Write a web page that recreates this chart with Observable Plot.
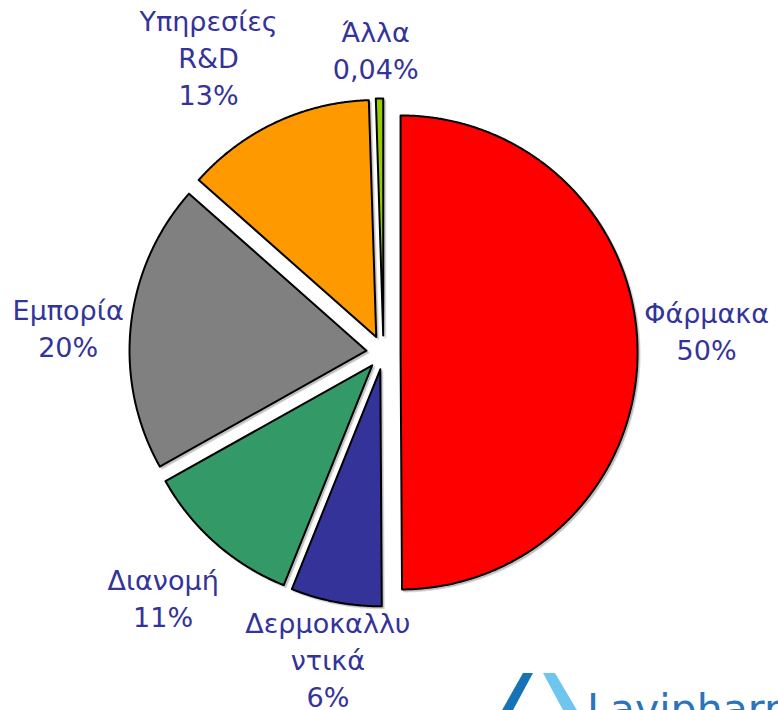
<!DOCTYPE html>
<html>
<head>
<meta charset="utf-8">
<script src="https://cdn.jsdelivr.net/npm/d3@7"></script>
<script src="https://cdn.jsdelivr.net/npm/@observablehq/plot@0.6"></script>
<style>
  body { margin: 0; background: #fff; }
  #wrap { position: relative; width: 778px; height: 710px; overflow: hidden; background: #fff; }
  #logo { position: absolute; left: 0; top: 0; pointer-events: none; }
</style>
</head>
<body>
<div id="wrap"></div>
<script>
// ---- data ----
const categories = ["Φάρμακα", "Δερμοκαλλυντικά", "Διανομή", "Εμπορία", "Υπηρεσίες R&D", "Άλλα"];
const labelNames = ["Φάρμακα", "Δερμοκαλλυ\nντικά", "Διανομή", "Εμπορία", "Υπηρεσίες\nR&D", "Άλλα"];
const percentLabels = ["50%", "6%", "11%", "20%", "13%", "0,04%"];
// slice sizes
const sliceShares = [50, 6.2, 10.8, 19.7, 13, 0.5];

// ---- styles / layout ----
const sliceColors = ["#FF0000", "#333399", "#339966", "#808080", "#FF9900", "#99CC00"];
const W = 778, H = 710;
const CX = 383, CY = 352, RPX = 237;         // pie centre & radius in pixels
const EXPLODE = 0.072, LABEL_R = 1.3;
const labelNudge = [[15, -22], [2, 3], [-17, 13], [-9, 7], [-44, -17], [-3, 4]];

// ---- geometry built from the data ----
const arcs = d3.pie().sort(null).value(d => d)(sliceShares);
const slicePts = [];
const labels = [];
arcs.forEach((a, i) => {
  const mid = (a.startAngle + a.endAngle) / 2;
  const ox = EXPLODE * Math.sin(mid), oy = EXPLODE * Math.cos(mid);
  slicePts.push({cat: categories[i], x: ox, y: oy});
  const n = Math.max(2, Math.ceil((a.endAngle - a.startAngle) / 0.005));
  for (let k = 0; k <= n; k++) {
    const t = a.startAngle + (a.endAngle - a.startAngle) * k / n;
    slicePts.push({cat: categories[i], x: ox + Math.sin(t), y: oy + Math.cos(t)});
  }
  labels.push({
    cat: categories[i],
    text: labelNames[i] + "\n" + percentLabels[i],
    x: LABEL_R * Math.sin(mid),
    y: LABEL_R * Math.cos(mid),
    dx: labelNudge[i][0],
    dy: labelNudge[i][1]
  });
});

const chart = Plot.plot({
  width: W,
  height: H,
  margin: 0,
  x: {domain: [-CX / RPX, (W - CX) / RPX], axis: null},
  y: {domain: [(CY - H) / RPX, CY / RPX], axis: null},
  color: {domain: categories, range: sliceColors},
  style: {background: "#fff", overflow: "visible"},
  marks: [
    Plot.line(slicePts, {x: "x", y: "y", z: "cat", fill: "#000", fillOpacity: 0.2, stroke: "#999", strokeOpacity: 0.35, strokeWidth: 2, curve: "linear-closed", dx: 2, dy: 2}),
    Plot.line(slicePts, {x: "x", y: "y", z: "cat", fill: "cat", stroke: "#000", strokeWidth: 2, strokeLinejoin: "round", curve: "linear-closed"}),
    ...labels.map(l => Plot.text([l], {
      x: "x", y: "y", text: "text", dx: l.dx, dy: l.dy,
      fill: "#333399", fontSize: 27, lineHeight: 1.37,
      fontFamily: "DejaVu Sans", textAnchor: "middle"
    }))
  ]
});
const wrap = document.getElementById("wrap");
wrap.appendChild(chart);

// company logo (decoration, partially cut at bottom edge as in the source)
wrap.insertAdjacentHTML("beforeend", `
<svg id="logo" width="778" height="710">
  <polygon points="523,673 533,673 512,712 501,712" fill="#1673b8"/>
  <polygon points="543,673 555,673 578,712 564,712" fill="#6ec6ef"/>
  <text x="587" y="723" font-family="DejaVu Sans" font-size="41" fill="#2a73bd">Lavipharm</text>
</svg>`);
</script>
</body>
</html>
